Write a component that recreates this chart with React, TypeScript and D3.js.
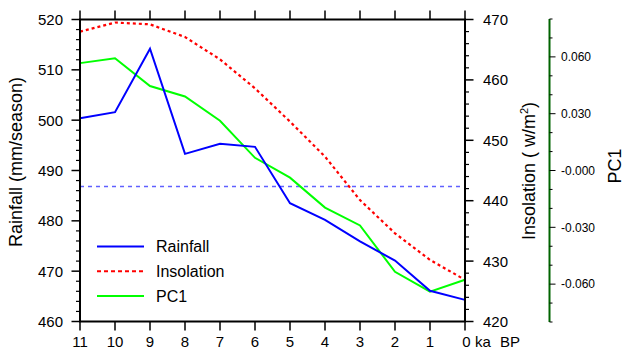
import React from 'react';
import * as d3 from 'd3';

const years = [11, 10, 9, 8, 7, 6, 5, 4, 3, 2, 1, 0];
const rainfall = [500.4, 501.6, 514.2, 493.3, 495.3, 494.7, 483.5, 480.2, 475.9, 472.1, 466.1, 464.3];
const insolation = [468.0, 469.5, 469.2, 467.1, 463.4, 458.6, 453.1, 447.3, 440.1, 434.6, 430.2, 426.9];
const pc1 = [0.0567, 0.0593, 0.0446, 0.0391, 0.0263, 0.0067, -0.0038, -0.0196, -0.029, -0.0535, -0.064, -0.0577];
const rainfallMean = 486.8;

const rainTicks = [460, 470, 480, 490, 500, 510, 520];
const insolTicks = [420, 430, 440, 450, 460, 470];
const pcTicks = [0.06, 0.03, 0, -0.03, -0.06];
const pcTickLabels = ['0.060', '0.030', '-0.000', '-0.030', '-0.060'];

const legendItems = [
  { label: 'Rainfall', color: '#0000ff', dash: null },
  { label: 'Insolation', color: '#ff0000', dash: '4,3' },
  { label: 'PC1', color: '#00ff00', dash: null },
];

const font = 'Liberation Sans, Arial, Helvetica, sans-serif';

export default function App() {
  const width = 624;
  const height = 358;
  const top = 19.5;
  const bottom = 321.5;

  const x = d3.scaleLinear().domain([11, 0]).range([80, 465]);
  const yRain = d3.scaleLinear().domain([460, 520]).range([bottom, top]);
  const yIns = d3.scaleLinear().domain([420, 470]).range([bottom, top]);
  const yPc = d3.scaleLinear().domain([-0.08, 0.08]).range([322, 19]);

  const left = x(11);
  const right = x(0);
  const pcX = 549.5;

  const rainLine = d3.line<number>().x((_, i) => x(years[i])).y((d) => yRain(d));
  const insLine = d3.line<number>().x((_, i) => x(years[i])).y((d) => yIns(d));
  const pcLine = d3.line<number>().x((_, i) => x(years[i])).y((d) => yPc(d));

  const rainMinor = d3.range(460, 520.1, 2).filter((v) => v % 10 !== 0);
  const insMinor = d3.range(420, 470.1, 2).filter((v) => v % 10 !== 0);
  const pcMinor = d3.range(-8, 8.1, 1).filter((v) => v % 3 !== 0).map((v) => v / 100);

  return (
    <svg width={width} height={height} style={{ position: 'absolute', left: 0, top: 0, background: '#fff' }} fontFamily={font}>
      {/* mean rainfall */}
      <line x1={left} x2={right} y1={yRain(rainfallMean)} y2={yRain(rainfallMean)} stroke="#6060ff" strokeWidth={1.5} strokeDasharray="4,4" />

      <path d={insLine(insolation) || ''} fill="none" stroke="#ff0000" strokeWidth={2.2} strokeDasharray="3,3" />
      <path d={pcLine(pc1) || ''} fill="none" stroke="#00ff00" strokeWidth={2} />
      <path d={rainLine(rainfall) || ''} fill="none" stroke="#0000ff" strokeWidth={2} />

      {/* frame */}
      <rect x={left} y={top} width={right - left} height={bottom - top} fill="none" stroke="#000" strokeWidth={2} />

      {/* top / bottom ticks */}
      {years.map((yr) => (
        <g key={yr}>
          <line x1={x(yr)} x2={x(yr)} y1={top} y2={top - 9} stroke="#000" strokeWidth={1.5} />
          <line x1={x(yr)} x2={x(yr)} y1={bottom} y2={bottom + 9} stroke="#000" strokeWidth={1.5} />
          {yr !== 0 && (
            <text x={x(yr)} y={346.5} fontSize={15} textAnchor="middle">{yr}</text>
          )}
        </g>
      ))}
      <text x={466.5} y={346.5} fontSize={15} textAnchor="middle">0</text>
      <text x={475} y={346.5} fontSize={15}>ka</text>
      <text x={500} y={346.5} fontSize={15}>BP</text>

      {/* left axis */}
      {rainTicks.map((t) => (
        <g key={t}>
          <line x1={left} x2={left - 8.5} y1={yRain(t)} y2={yRain(t)} stroke="#000" strokeWidth={1.5} />
          <text x={63} y={yRain(t)} dy="0.36em" fontSize={15} textAnchor="end">{t}</text>
        </g>
      ))}
      {rainMinor.map((t) => (
        <line key={t} x1={left} x2={left - 4} y1={yRain(t)} y2={yRain(t)} stroke="#000" strokeWidth={1.2} />
      ))}
      <text transform="translate(22,162) rotate(-90)" fontSize={18} textAnchor="middle">Rainfall (mm/season)</text>

      {/* right axis */}
      {insolTicks.map((t) => (
        <g key={t}>
          <line x1={right} x2={right + 8.5} y1={yIns(t)} y2={yIns(t)} stroke="#000" strokeWidth={1.5} />
          <text x={483} y={yIns(t)} dy="0.36em" fontSize={15}>{t}</text>
        </g>
      ))}
      {insMinor.map((t) => (
        <line key={t} x1={right} x2={right + 4} y1={yIns(t)} y2={yIns(t)} stroke="#000" strokeWidth={1.2} />
      ))}
      <text transform="translate(535,171) rotate(-90)" fontSize={18} textAnchor="middle">
        Insolation ( w/m<tspan dy="-7" fontSize={11}>2</tspan><tspan dy="7">)</tspan>
      </text>

      {/* PC1 axis */}
      <line x1={pcX} x2={pcX} y1={yPc(0.08)} y2={yPc(-0.08)} stroke="#006400" strokeWidth={2} />
      {pcTicks.map((t, i) => (
        <g key={t}>
          <line x1={pcX} x2={pcX + 6} y1={yPc(t)} y2={yPc(t)} stroke="#000" strokeWidth={1} />
          <text x={561} y={yPc(t)} dy="0.36em" fontSize={12}>{pcTickLabels[i]}</text>
        </g>
      ))}
      {pcMinor.map((t) => (
        <line key={t} x1={pcX} x2={pcX + 3} y1={yPc(t)} y2={yPc(t)} stroke="#000" strokeWidth={1} />
      ))}
      <text transform="translate(621,166) rotate(-90)" fontSize={18} textAnchor="middle">PC1</text>

      {/* legend */}
      {legendItems.map((item, i) => {
        const ly = 246.5 + i * 24.7;
        return (
          <g key={item.label}>
            <line x1={97} x2={144} y1={ly} y2={ly} stroke={item.color} strokeWidth={2} strokeDasharray={item.dash || undefined} />
            <text x={156} y={ly} dy="0.36em" fontSize={16}>{item.label}</text>
          </g>
        );
      })}
    </svg>
  );
}
